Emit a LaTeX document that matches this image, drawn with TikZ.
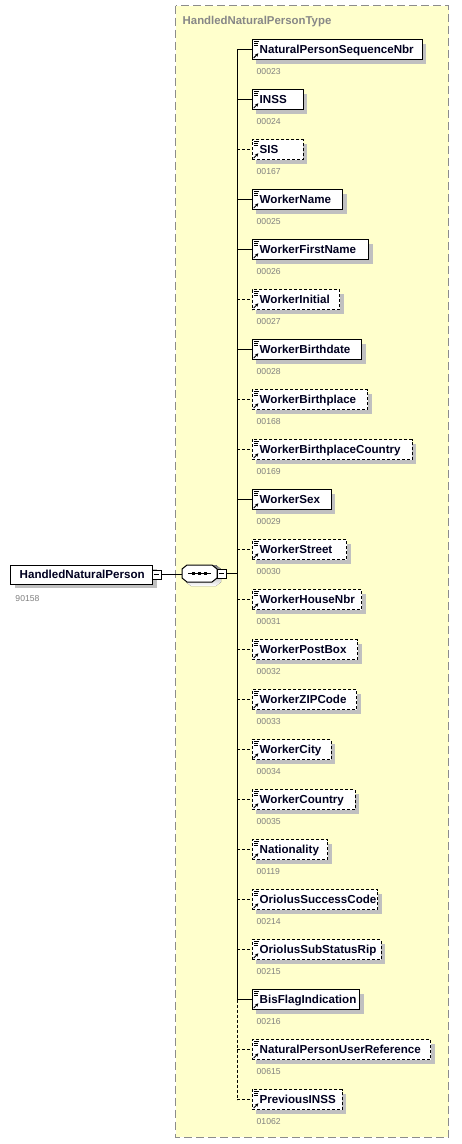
\documentclass[tikz,border=0pt]{standalone}
\usepackage{fontspec}
\setmainfont{Liberation Sans}
\usetikzlibrary{shadows,calc,arrows.meta}
\definecolor{panel}{RGB}{255,255,204}
\definecolor{panelborder}{RGB}{140,140,140}
\definecolor{shade}{RGB}{192,192,192}
\definecolor{codegray}{RGB}{128,128,128}
\definecolor{titlegray}{RGB}{135,135,135}
\definecolor{ink}{RGB}{0,0,32}
\tikzset{
  ebox/.style={draw=black, line width=1pt, fill=white, minimum height=20pt, inner sep=0pt, anchor=west,
    drop shadow={shadow xshift=4pt, shadow yshift=-4pt, fill=shade, opacity=1}},
  mandline/.style={},
  optline/.style={dash pattern=on 3pt off 2pt},
  etext/.style={inner sep=0pt, anchor=base west, text=ink, font=\fontsize{11.6}{13}\selectfont\bfseries},
  ecode/.style={inner sep=0pt, anchor=base west, text=codegray, font=\fontsize{8.6}{10}\selectfont},
  conn/.style={line width=1pt, draw=black},
  minusbox/.style={draw=black, line width=0.8pt, fill=white, minimum width=9pt, minimum height=9pt, inner sep=0pt},
}
\begin{document}
\begin{tikzpicture}[x=1pt,y=-1pt]
\useasboundingbox (0,0) rectangle (462,1144);
\fill[white] (0,0) rectangle (462,1144);
% type panel
\draw[fill=panel, draw=panelborder, line width=1pt, dash pattern=on 8pt off 4pt] (175.5,5.5) rectangle (448.5,1137);
\node[inner sep=0pt, anchor=base west, text=titlegray, font=\fontsize{11.4}{13}\selectfont\bfseries] (title) at (182.5,24) {HandledNaturalPersonType};
% vertical line
\coordinate (vtop) at (237,49.5);
\coordinate (vmid) at (237,999.5);
\coordinate (vbot) at (237,1099.5);
\draw[conn] (vtop) -- (vmid);
\draw[conn, optline] (vmid) -- (vbot);
% elements
\foreach \i/\nm/\cd/\rt/\st in {
 0/NaturalPersonSequenceNbr/00023/421.7/mandline,
 1/INSS/00024/302.7/mandline,
 2/SIS/00167/302.7/optline,
 3/WorkerName/00025/342/mandline,
 4/WorkerFirstName/00026/368/mandline,
 5/WorkerInitial/00027/339/optline,
 6/WorkerBirthdate/00028/361/mandline,
 7/WorkerBirthplace/00168/367/optline,
 8/WorkerBirthplaceCountry/00169/411.7/optline,
 9/WorkerSex/00029/330.7/mandline,
 10/WorkerStreet/00030/346/optline,
 11/WorkerHouseNbr/00031/361/optline,
 12/WorkerPostBox/00032/357/optline,
 13/WorkerZIPCode/00033/356/optline,
 14/WorkerCity/00034/330.7/optline,
 15/WorkerCountry/00035/354.5/optline,
 16/Nationality/00119/327.3/optline,
 17/OriolusSuccessCode/00214/377.3/optline,
 18/OriolusSubStatusRip/00215/380.5/optline,
 19/BisFlagIndication/00216/359.3/mandline,
 20/NaturalPersonUserReference/00615/430/optline,
 21/PreviousINSS/01062/341.7/optline}{
  \pgfmathsetmacro{\yc}{49.5+50*\i}
  \pgfmathsetmacro{\boxw}{\rt-251.5}
  \coordinate (v\i) at (237,\yc);
  \node[ebox, \st, minimum width=\boxw pt] (e\i) at (251.5,\yc) {};
  \draw[conn, \st] (v\i) -- (e\i.west);
  \node[etext] (t\i) at (259.5,\yc+4.2) {\nm};
  \node[ecode] (c\i) at (256.5,\yc+25) {\cd};
  % icon: lines
  \draw[line width=0.8pt] ($(e\i.north west)+(2.5,2.2)$) -- ++(4.8,0);
  \draw[line width=0.8pt] ($(e\i.north west)+(2.5,4.2)$) -- ++(4,0);
  \draw[line width=0.8pt] ($(e\i.north west)+(2.5,6.2)$) -- ++(4,0);
  % icon: arrow
  \draw[line width=1pt, -{Stealth[length=3.2pt,width=3.4pt]}] ($(e\i.south west)+(2.2,-2)$) -- ++(4.6,-4.6);
}
% main element
\node[ebox, minimum width=142pt, minimum height=19pt] (main) at (10,574.5) {};
\node[inner sep=0pt, anchor=base west, text=ink, font=\fontsize{11.6}{13}\selectfont\bfseries] (maintext) at (19.5,578.7) {HandledNaturalPerson};
\node[ecode] (maincode) at (15.3,601.5) {90158};
\node[minusbox] (mminus) at (156.5,574.5) {};
\draw[line width=0.8pt] ($(mminus.west)+(2,0)$) -- ($(mminus.east)+(-2,0)$);
% sequence compositor
\coordinate (oct) at (199.5,573.5);
\fill[shade] (186,569) -- (191,565) -- (216,565) -- (221,569) -- (221,582) -- (216,586) -- (191,586) -- (186,582) -- cycle;
\draw[line width=1pt, fill=white] (182,569) -- (187,565) -- (212,565) -- (217,569) -- (217,578) -- (212,582) -- (187,582) -- (182,578) -- cycle;
\draw[line width=1pt] (188,573.5) -- (211,573.5);
\foreach \dx in {193.5,199.5,205.5}{\fill[black] (\dx-1.5,572) rectangle (\dx+1.5,575);}
\node[minusbox] (sminus) at (221.5,573.5) {};
\draw[line width=0.8pt] ($(sminus.west)+(2,0)$) -- ($(sminus.east)+(-2,0)$);
\coordinate (vseq) at (237,573.5);
\draw[conn] (mminus.east) -- (182,574.5);
\draw[conn] (sminus.east) -- (vseq);
\end{tikzpicture}
\end{document}
